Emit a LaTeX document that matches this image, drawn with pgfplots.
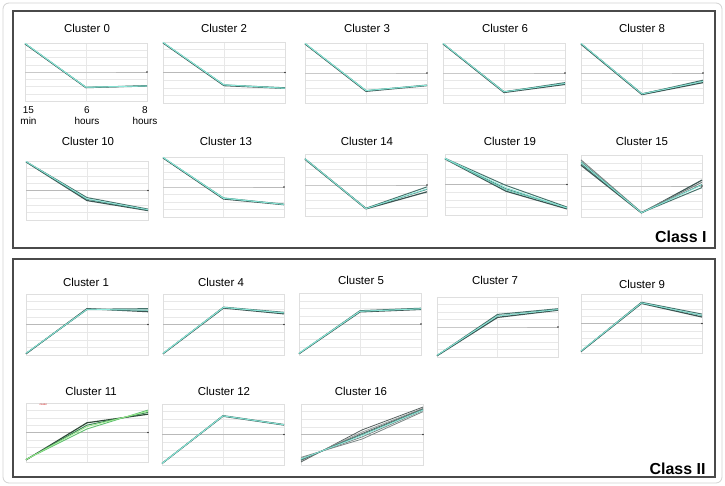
\documentclass[border=0pt]{standalone}
\usepackage{fontspec}
\setmainfont{Liberation Sans}
\usepackage{pgfplots}
\pgfplotsset{compat=1.18}

% shades for the member profiles of a cluster, dark to light
\definecolor{t1}{HTML}{3B5552}
\definecolor{t2}{HTML}{46736C}
\definecolor{t3}{HTML}{4F9488}
\definecolor{t4}{HTML}{6CC7B6}
\definecolor{t5}{HTML}{8EEBDD}
\definecolor{g1}{HTML}{2F4A38}
\definecolor{g2}{HTML}{3E8B57}
\definecolor{g3}{HTML}{5FBF6F}
\definecolor{g4}{HTML}{9BEA8C}
\definecolor{k1}{HTML}{555F5E}
\definecolor{k2}{HTML}{7A8584}
\definecolor{k3}{HTML}{9AA3A2}
\definecolor{boxline}{HTML}{4A4A4A}

\pgfplotsset{
  panel/.style={
    scale only axis, anchor=north west,
    xmin=0, xmax=2, ymin=-1, ymax=1,
    axis line style={draw=gray!25, line width=0.4pt},
    xtick={0,1,2}, ytick={-1,-0.75,...,1},
    xticklabels={}, yticklabels={},
    major tick length=0pt,
    grid=major, grid style={draw=gray!18, line width=0.35pt},
    clip=false,
    every axis plot/.append style={line join=round},
  },
  d1/.style={t1, line width=1.2pt},
  d2/.style={t2, line width=1.0pt},
  d3/.style={t3, line width=0.9pt},
  d4/.style={t4, line width=0.8pt},
  d5/.style={t5, line width=0.7pt},
  zl/.style={gray!55, line width=0.4pt, mark=*, mark size=0.6pt, mark indices={3}, mark options={fill=black!80, draw=black!80}},
}

\begin{document}
\begin{tikzpicture}
\path[use as bounding box] (0,0) rectangle (725bp,-486bp);
\fill[white] (0,0) rectangle (725bp,-486bp);

\begin{scope}[x=1bp, y=-1bp]
  % outer frame and the two class boxes
  \draw[gray!35, line width=0.8pt, rounded corners=6bp] (3,3) rectangle (722,483);
  \draw[boxline, line width=1.6pt] (13,11) rectangle (715,248);
  \draw[boxline, line width=1.6pt] (13,259) rectangle (715,477);

  % panel titles
  \begin{scope}[every node/.style={anchor=base, font=\fontsize{11.5}{13}\selectfont}]
    \node at (87,32.5) {Cluster 0};
    \node at (224,32.5) {Cluster 2};
    \node at (367,32.5) {Cluster 3};
    \node at (505,32.5) {Cluster 6};
    \node at (642,32.5) {Cluster 8};
    \node at (88,145) {Cluster 10};
    \node at (226,145) {Cluster 13};
    \node at (367,145) {Cluster 14};
    \node at (510,145) {Cluster 19};
    \node at (642,145) {Cluster 15};
    \node at (86,286) {Cluster 1};
    \node at (221,286) {Cluster 4};
    \node at (361,284) {Cluster 5};
    \node at (495,284) {Cluster 7};
    \node at (642,288) {Cluster 9};
    \node at (91,395) {Cluster 11};
    \node at (224,395) {Cluster 12};
    \node at (361,395) {Cluster 16};
  \end{scope}

  % time points of the profiles
  \begin{scope}[every node/.style={anchor=base, font=\fontsize{10}{12}\selectfont}]
    \node at (28.5,113) {15};
    \node at (28.5,124) {min};
    \node at (87,113) {6};
    \node at (87,124) {hours};
    \node at (145,113) {8};
    \node at (145,124) {hours};
  \end{scope}

  \node[anchor=base east, font=\fontsize{16}{18}\selectfont\bfseries] at (710,242) {Class I};
  \node[anchor=base east, font=\fontsize{16}{18}\selectfont\bfseries] at (709,474.5) {Class II};
\end{scope}

% ---------------- Class I ----------------
% Cluster 0
\begin{axis}[panel, at={(25bp,-43bp)}, width=122bp, height=58bp]
\addplot[zl] coordinates {(0,0) (1,0) (2,0)};
\addplot[d1] coordinates {(0,0.97) (1,-0.54) (2,-0.47)};
\addplot[d2] coordinates {(0,0.98) (1,-0.53) (2,-0.49)};
\addplot[d4] coordinates {(0,0.99) (1,-0.52) (2,-0.48)};
\addplot[d5] coordinates {(0,0.99) (1,-0.53) (2,-0.48)};
\end{axis}
% Cluster 2
\begin{axis}[panel, at={(163bp,-42bp)}, width=122bp, height=61bp]
\addplot[zl] coordinates {(0,0) (1,0) (2,0)};
\addplot[d1] coordinates {(0,0.97) (1,-0.43) (2,-0.52)};
\addplot[d2] coordinates {(0,0.98) (1,-0.41) (2,-0.50)};
\addplot[d4] coordinates {(0,0.99) (1,-0.40) (2,-0.51)};
\addplot[d5] coordinates {(0,0.99) (1,-0.41) (2,-0.52)};
\end{axis}
% Cluster 3
\begin{axis}[panel, at={(305bp,-43bp)}, width=122bp, height=60bp]
\addplot[zl] coordinates {(0,0) (1,0) (2,0)};
\addplot[d1] coordinates {(0,0.97) (1,-0.61) (2,-0.42)};
\addplot[d2] coordinates {(0,0.98) (1,-0.59) (2,-0.40)};
\addplot[d4] coordinates {(0,0.99) (1,-0.58) (2,-0.41)};
\addplot[d5] coordinates {(0,0.99) (1,-0.59) (2,-0.41)};
\end{axis}
% Cluster 6
\begin{axis}[panel, at={(443bp,-43bp)}, width=122bp, height=60bp]
\addplot[zl] coordinates {(0,0) (1,0) (2,0)};
\addplot[d1] coordinates {(0,0.97) (1,-0.65) (2,-0.38)};
\addplot[d2] coordinates {(0,0.98) (1,-0.63) (2,-0.32)};
\addplot[d3] coordinates {(0,0.98) (1,-0.62) (2,-0.35)};
\addplot[d5] coordinates {(0,0.99) (1,-0.63) (2,-0.35)};
\end{axis}
% Cluster 8
\begin{axis}[panel, at={(581bp,-43bp)}, width=122bp, height=60bp]
\addplot[zl] coordinates {(0,0) (1,0) (2,0)};
\addplot[d1] coordinates {(0,0.96) (1,-0.72) (2,-0.32)};
\addplot[d2] coordinates {(0,0.98) (1,-0.70) (2,-0.24)};
\addplot[d3] coordinates {(0,0.98) (1,-0.69) (2,-0.28)};
\addplot[d5] coordinates {(0,0.99) (1,-0.70) (2,-0.28)};
\end{axis}
% Cluster 10
\begin{axis}[panel, at={(26bp,-161bp)}, width=122bp, height=59bp]
\addplot[zl] coordinates {(0,0) (1,0) (2,0)};
\addplot[d1] coordinates {(0,0.97) (1,-0.34) (2,-0.68)};
\addplot[d2] coordinates {(0,0.98) (1,-0.24) (2,-0.63)};
\addplot[d3] coordinates {(0,0.98) (1,-0.30) (2,-0.66)};
\addplot[d5] coordinates {(0,0.99) (1,-0.28) (2,-0.65)};
\end{axis}
% Cluster 13
\begin{axis}[panel, at={(163bp,-157bp)}, width=121bp, height=60bp]
\addplot[zl] coordinates {(0,0) (1,0) (2,0)};
\addplot[d1] coordinates {(0,0.97) (1,-0.40) (2,-0.59)};
\addplot[d2] coordinates {(0,0.98) (1,-0.37) (2,-0.57)};
\addplot[d4] coordinates {(0,0.99) (1,-0.36) (2,-0.58)};
\addplot[d5] coordinates {(0,0.99) (1,-0.38) (2,-0.58)};
\end{axis}
% Cluster 14
\begin{axis}[panel, at={(305bp,-154bp)}, width=122bp, height=62bp]
\addplot[zl] coordinates {(0,0) (1,0) (2,0)};
\addplot[d1] coordinates {(0,0.83) (1,-0.77) (2,-0.22)};
\addplot[d2] coordinates {(0,0.85) (1,-0.75) (2,-0.06)};
\addplot[d3] coordinates {(0,0.84) (1,-0.76) (2,-0.14)};
\addplot[d5] coordinates {(0,0.85) (1,-0.76) (2,-0.12)};
\end{axis}
% Cluster 19
\begin{axis}[panel, at={(445bp,-154bp)}, width=122bp, height=61bp]
\addplot[zl] coordinates {(0,0) (1,0) (2,0)};
\addplot[d1] coordinates {(0,0.84) (1,-0.22) (2,-0.80)};
\addplot[d2] coordinates {(0,0.86) (1,-0.03) (2,-0.74)};
\addplot[d3] coordinates {(0,0.85) (1,-0.14) (2,-0.77)};
\addplot[d4] coordinates {(0,0.85) (1,-0.18) (2,-0.76)};
\addplot[d5] coordinates {(0,0.86) (1,-0.10) (2,-0.77)};
\end{axis}
% Cluster 15
\begin{axis}[panel, at={(581bp,-155bp)}, width=121bp, height=62bp]
\addplot[zl] coordinates {(0,0) (1,0) (2,0)};
\addplot[d1] coordinates {(0,0.67) (1,-0.87) (2,0.19)};
\addplot[k2, line width=1.0pt] coordinates {(0,0.84) (1,-0.85) (2,0.12)};
\addplot[d2] coordinates {(0,0.72) (1,-0.86) (2,-0.05)};
\addplot[d3] coordinates {(0,0.78) (1,-0.86) (2,0.05)};
\addplot[d5] coordinates {(0,0.75) (1,-0.86) (2,0.03)};
\end{axis}

% ---------------- Class II ----------------
% Cluster 1
\begin{axis}[panel, at={(26bp,-294bp)}, width=122bp, height=61bp]
\addplot[zl] coordinates {(0,0) (1,0) (2,0)};
\addplot[d1] coordinates {(0,-0.96) (1,0.52) (2,0.42)};
\addplot[d2] coordinates {(0,-0.95) (1,0.50) (2,0.52)};
\addplot[d3] coordinates {(0,-0.95) (1,0.49) (2,0.47)};
\addplot[d5] coordinates {(0,-0.94) (1,0.50) (2,0.47)};
\end{axis}
% Cluster 4
\begin{axis}[panel, at={(163bp,-294bp)}, width=121bp, height=61bp]
\addplot[zl] coordinates {(0,0) (1,0) (2,0)};
\addplot[d1] coordinates {(0,-0.96) (1,0.54) (2,0.35)};
\addplot[d2] coordinates {(0,-0.95) (1,0.57) (2,0.40)};
\addplot[d4] coordinates {(0,-0.95) (1,0.56) (2,0.38)};
\addplot[d5] coordinates {(0,-0.94) (1,0.56) (2,0.38)};
\end{axis}
% Cluster 5
\begin{axis}[panel, at={(299bp,-293bp)}, width=122bp, height=62bp]
\addplot[zl] coordinates {(0,0) (1,0) (2,0)};
\addplot[d1] coordinates {(0,-0.96) (1,0.39) (2,0.47)};
\addplot[d2] coordinates {(0,-0.95) (1,0.43) (2,0.51)};
\addplot[d4] coordinates {(0,-0.95) (1,0.41) (2,0.49)};
\addplot[d5] coordinates {(0,-0.94) (1,0.41) (2,0.49)};
\end{axis}
% Cluster 7
\begin{axis}[panel, at={(437bp,-297bp)}, width=121bp, height=60bp]
\addplot[zl] coordinates {(0,0) (1,0) (2,0)};
\addplot[d1] coordinates {(0,-0.96) (1,0.32) (2,0.56)};
\addplot[d2] coordinates {(0,-0.95) (1,0.42) (2,0.61)};
\addplot[d3] coordinates {(0,-0.95) (1,0.37) (2,0.59)};
\addplot[d5] coordinates {(0,-0.94) (1,0.37) (2,0.58)};
\end{axis}
% Cluster 9
\begin{axis}[panel, at={(581bp,-294bp)}, width=121bp, height=59bp]
\addplot[zl] coordinates {(0,0) (1,0) (2,0)};
\addplot[d1] coordinates {(0,-0.95) (1,0.68) (2,0.22)};
\addplot[d2] coordinates {(0,-0.94) (1,0.72) (2,0.32)};
\addplot[d3] coordinates {(0,-0.94) (1,0.70) (2,0.27)};
\addplot[d5] coordinates {(0,-0.93) (1,0.70) (2,0.28)};
\end{axis}
% Cluster 11
\begin{axis}[panel, at={(26bp,-403bp)}, width=122bp, height=59bp]
\addplot[zl] coordinates {(0,0) (1,0) (2,0)};
\addplot[g1, line width=1.2pt] coordinates {(0,-0.93) (1,0.33) (2,0.62)};
\addplot[g2, line width=1.0pt] coordinates {(0,-0.92) (1,0.25) (2,0.68)};
\addplot[g3, line width=0.9pt] coordinates {(0,-0.91) (1,0.12) (2,0.76)};
\addplot[g4, line width=0.8pt] coordinates {(0,-0.92) (1,0.20) (2,0.72)};
\node[anchor=north west, inner sep=0pt, font=\fontsize{2.5}{3}\selectfont, text=red!80!black] at (axis cs:0.22,0.99) {cluster};
\end{axis}
% Cluster 12
\begin{axis}[panel, at={(162bp,-404bp)}, width=122bp, height=61bp]
\addplot[zl] coordinates {(0,0) (1,0) (2,0)};
\addplot[d1] coordinates {(0,-0.95) (1,0.60) (2,0.31)};
\addplot[d2] coordinates {(0,-0.95) (1,0.62) (2,0.33)};
\addplot[d4] coordinates {(0,-0.94) (1,0.61) (2,0.32)};
\addplot[d5] coordinates {(0,-0.95) (1,0.61) (2,0.32)};
\end{axis}
% Cluster 16
\begin{axis}[panel, at={(301bp,-404bp)}, width=122bp, height=61bp]
\addplot[zl] coordinates {(0,0) (1,0) (2,0)};
\addplot[k1, line width=0.8pt] coordinates {(0,-0.90) (1,0.15) (2,0.90)};
\addplot[k2, line width=0.8pt] coordinates {(0,-0.75) (1,-0.15) (2,0.75)};
\addplot[k3, line width=0.8pt] coordinates {(0,-0.86) (1,0.08) (2,0.86)};
\addplot[k2, line width=0.8pt] coordinates {(0,-0.79) (1,-0.08) (2,0.79)};
\addplot[k1, line width=0.8pt] coordinates {(0,-0.84) (1,0.03) (2,0.84)};
\addplot[d3] coordinates {(0,-0.82) (1,0.00) (2,0.82)};
\addplot[d5] coordinates {(0,-0.80) (1,-0.04) (2,0.80)};
\end{axis}
\end{tikzpicture}
\end{document}
